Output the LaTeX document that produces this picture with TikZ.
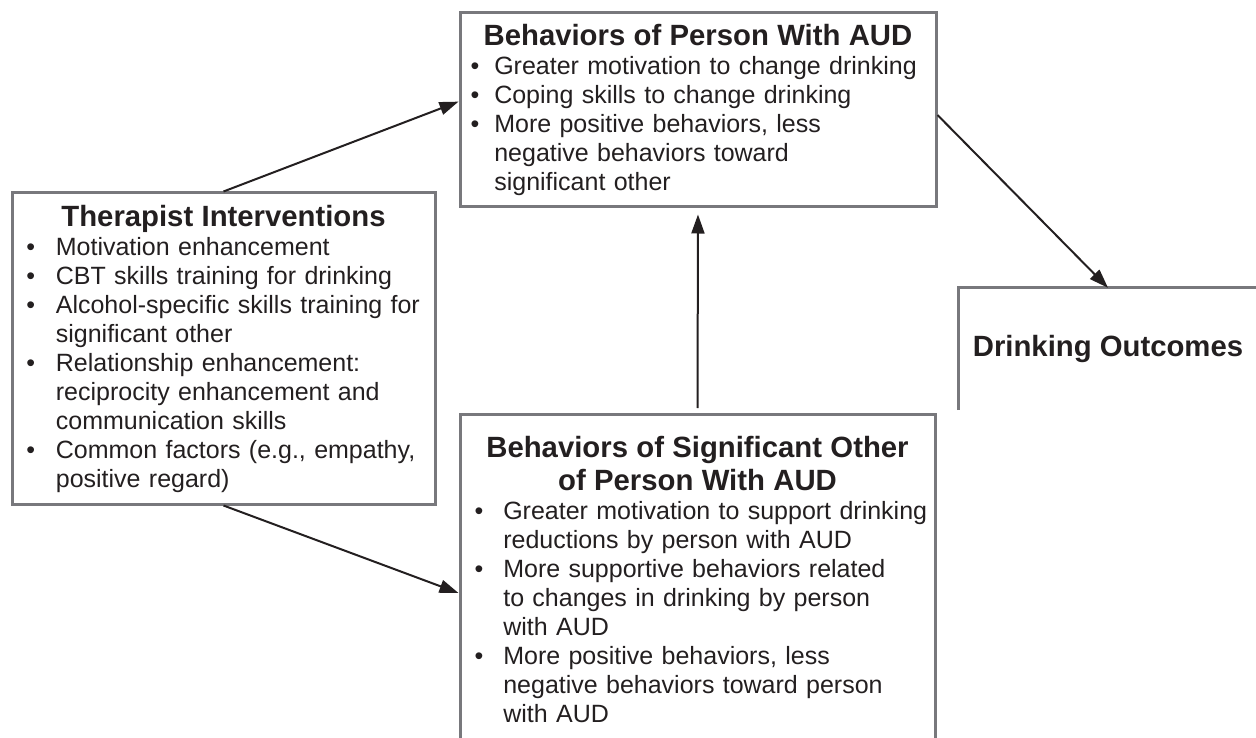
\documentclass[tikz,border=0pt]{standalone}
\usepackage{fontspec}
\setmainfont{Liberation Sans}
\usepackage{xcolor}
\usetikzlibrary{arrows.meta,positioning}

\definecolor{boxgray}{RGB}{120,120,124}
\definecolor{inkblk}{RGB}{35,31,32}

\newlength{\bind}
\newcommand{\hdfont}{\fontsize{29.3}{33}\selectfont\bfseries}
\newcommand{\txfont}{\fontsize{25}{29}\selectfont}
\newcommand{\bitem}[1]{\par\noindent\makebox[\bind][l]{\textbullet}\mbox{#1}}
\newcommand{\bcont}[1]{\par\noindent\hspace*{\bind}\mbox{#1}}

\begin{document}
\begin{tikzpicture}
    [
      x=1pt, y=1pt,
      frame/.style={draw=boxgray, line width=3pt, text=inkblk, font=\txfont, align=left},
      post/.style={-{Triangle[length=19pt,width=13pt]}, line width=2pt, draw=inkblk},
    ]
    \useasboundingbox (0,0) rectangle (1256,-738);

    \node (therapist) [frame, text width=394pt, inner xsep=14.5pt, minimum height=311pt] at (223.5,-348.5) {\setlength{\bind}{29.4pt}%
      {\hdfont\centering Therapist Interventions\par}
      \bitem{Motivation enhancement}
      \bitem{CBT skills training for drinking}
      \bitem{Alcohol-specific skills training for}
      \bcont{significant other}
      \bitem{Relationship enhancement:}
      \bcont{reciprocity enhancement and}
      \bcont{communication skills}
      \bitem{Common factors (e.g., empathy,}
      \bcont{positive regard)}};
    \node (person) [frame, text width=454.8pt, inner xsep=10.6pt, minimum height=194pt] at (698,-110) {\setlength{\bind}{23.7pt}%
      {\hdfont\centering Behaviors of Person With AUD\par}
      \bitem{Greater motivation to change drinking}
      \bitem{Coping skills to change drinking}
      \bitem{More positive behaviors, less}
      \bcont{negative behaviors toward}
      \bcont{significant other}};
    \node (sigother) [frame, text width=445.8pt, inner xsep=14.6pt, inner ysep=21.7pt, anchor=north] at (697.5,-413) {\setlength{\bind}{28.7pt}%
      {\hdfont\centering Behaviors of Significant Other\\ of Person With AUD\par}
      \bitem{Greater motivation to support drinking}
      \bcont{reductions by person with AUD}
      \bitem{More supportive behaviors related}
      \bcont{to changes in drinking by person}
      \bcont{with AUD}
      \bitem{More positive behaviors, less}
      \bcont{negative behaviors toward person}
      \bcont{with AUD}};
    \node (outcome) [font=\hdfont, text=inkblk, minimum width=298pt, minimum height=122pt] at (1108,-349) {Drinking Outcomes};
    \draw [boxgray, line width=3pt] (outcome.south west) -- (outcome.north west) -- (outcome.north east); % open box

    \path
    (therapist.north) edge [post] (person.178)
    (therapist.south) edge [post] ([yshift=-180pt]sigother.north west)
    (sigother.north) edge [post, shorten <=5pt, shorten >=6pt] (person.south)
    ([yshift=-5pt]person.east) edge [post] (outcome.north)
    ;

\end{tikzpicture}
\end{document}
